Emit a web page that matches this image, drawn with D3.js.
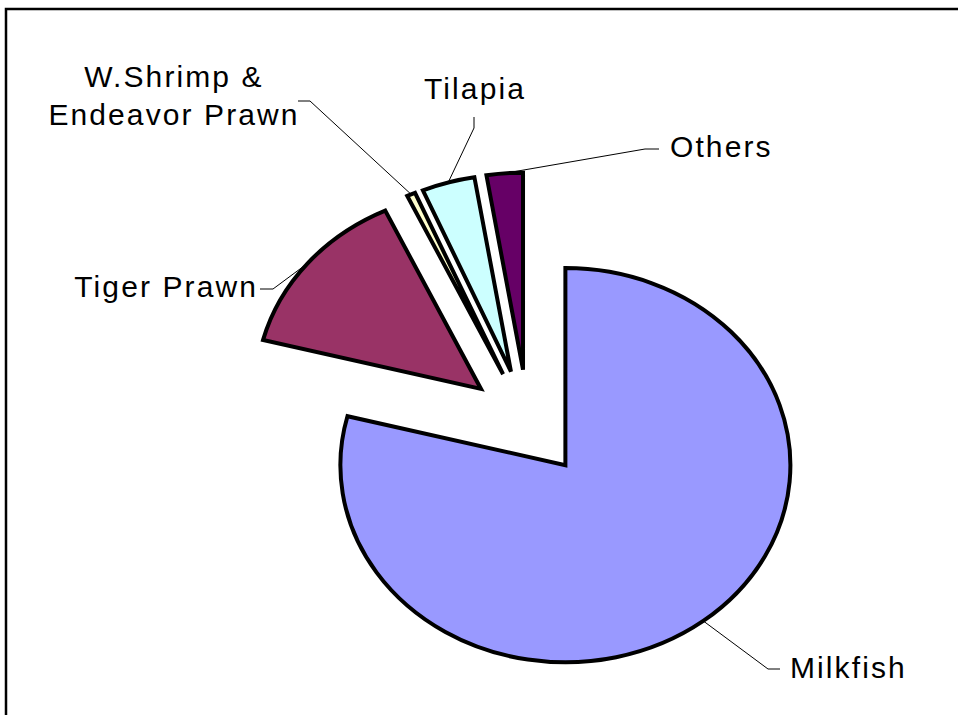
<!DOCTYPE html>
<html>
<head>
<meta charset="utf-8">
<script src="https://cdn.jsdelivr.net/npm/d3@7"></script>
<style>
  html, body { margin: 0; padding: 0; background: #fff; }
  svg { display: block; }
  .lbl { font-family: "Liberation Sans", Arial, sans-serif; font-size: 30px; letter-spacing: 2.1px; fill: #000; }
</style>
</head>
<body>
<svg id="chart" width="958" height="715"></svg>
<script>
// Production share by species (%)
const categories = ["Milkfish", "Tiger Prawn", "W.Shrimp & Endeavor Prawn", "Tilapia", "Others"];
const shares = [79.0, 14.0, 0.6, 3.8, 2.6];
const colors = ["#9999FF", "#993366", "#FFFFCC", "#CCFFFF", "#660066"];
const labelLines = [["Milkfish"], ["Tiger Prawn"], ["W.Shrimp &", "Endeavor Prawn"], ["Tilapia"], ["Others"]];

const W = 958, H = 715;
const cx = 528, cy = 423;      // pie centre
const R = 225;                 // radius
const ky = 0.876;              // vertical squash of the pie
const explode = 61;            // every slice pulled out along its mid-angle

// label placement: anchor point, text-anchor, elbow of the leader, end of the leader
const labelLayout = [
  { x: 790, y: 678, anchor: "start",  elbow: [768, 669], end: [780, 669] },
  { x: 258, y: 297, anchor: "end",    elbow: [273, 289], end: [260, 289] },
  { x: 174, y: 87,  anchor: "middle", elbow: [310, 101], end: [298, 101], dy: 38 },
  { x: 475, y: 99,  anchor: "middle", elbow: [474, 128], end: [474, 117] },
  { x: 670, y: 157, anchor: "start",  elbow: [645, 149], end: [659, 149] }
];

const svg = d3.select("#chart");

// chart frame
svg.append("rect")
  .attr("x", 6).attr("y", 9)
  .attr("width", W + 40).attr("height", H + 40)
  .attr("fill", "none").attr("stroke", "#000").attr("stroke-width", 2.5);

const pie = d3.pie().sort(null).value(d => d).startAngle(0).endAngle(2 * Math.PI);
const arcs = pie(shares);
const arcGen = d3.arc().innerRadius(0).outerRadius(R);

const pieG = svg.append("g")
  .attr("transform", `translate(${cx},${cy}) scale(1,${ky})`);

pieG.selectAll("path.slice")
  .data(arcs)
  .join("path")
  .attr("class", "slice")
  .attr("d", arcGen)
  .attr("transform", d => {
    const m = (d.startAngle + d.endAngle) / 2;
    return `translate(${explode * Math.sin(m)},${-explode * Math.cos(m)})`;
  })
  .attr("fill", (d, i) => colors[i])
  .attr("stroke", "#000")
  .attr("stroke-width", 4)
  .attr("stroke-linejoin", "miter")
  .attr("vector-effect", "non-scaling-stroke");

// leader lines from each slice's outer arc (at mid-angle) to its label
const arcPoint = d => {
  const m = (d.startAngle + d.endAngle) / 2;
  const r = explode + R;
  return [cx + r * Math.sin(m), cy - r * Math.cos(m) * ky];
};

svg.selectAll("polyline.leader")
  .data(arcs)
  .join("polyline")
  .attr("class", "leader")
  .attr("points", (d, i) => {
    const p = arcPoint(d), L = labelLayout[i];
    return [p, L.elbow, L.end].map(q => q.join(",")).join(" ");
  })
  .attr("fill", "none")
  .attr("stroke", "#000")
  .attr("stroke-width", 1);

// category labels
const texts = svg.selectAll("text.lbl")
  .data(categories)
  .join("text")
  .attr("class", "lbl")
  .attr("x", (d, i) => labelLayout[i].x)
  .attr("y", (d, i) => labelLayout[i].y)
  .attr("text-anchor", (d, i) => labelLayout[i].anchor);

texts.each(function (d, i) {
  const t = d3.select(this);
  labelLines[i].forEach((line, j) => {
    t.append("tspan")
      .attr("x", labelLayout[i].x)
      .attr("dy", j === 0 ? 0 : labelLayout[i].dy)
      .text(line);
  });
});
</script>
</body>
</html>
